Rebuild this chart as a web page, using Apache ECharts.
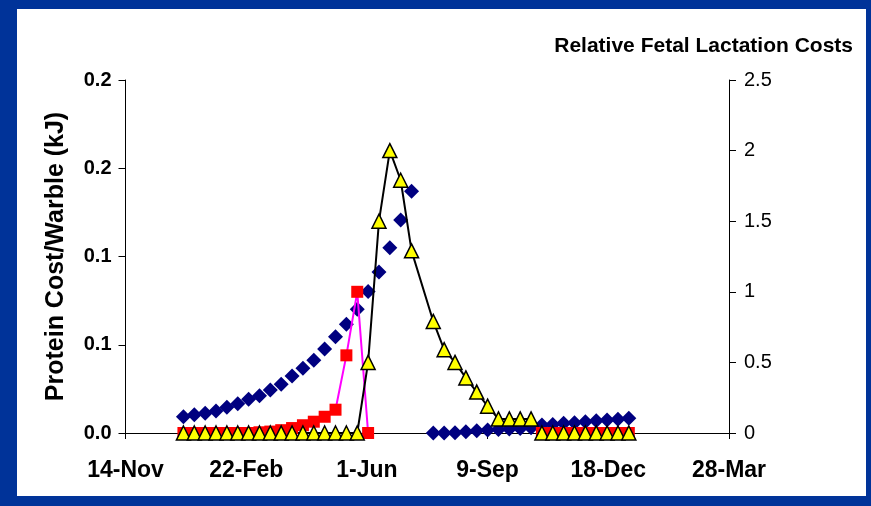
<!DOCTYPE html>
<html>
<head>
<meta charset="utf-8">
<script src="https://cdn.jsdelivr.net/npm/echarts@6/dist/echarts.min.js"></script>
<style>
  body { margin: 0; background: #003399; }
  #frame { position: relative; width: 871px; height: 506px; background: #003399; }
  #paper { position: absolute; left: 17px; top: 9px; width: 849px; height: 487px; background: #fff; }
  #chart { position: absolute; left: 0; top: 0; width: 871px; height: 506px; }
</style>
</head>
<body>
<div id="frame">
  <div id="paper"></div>
  <div id="chart"></div>
</div>
<script>
// x values are days after 14-Nov
var dateLabels = ["14-Nov", "22-Feb", "1-Jun", "9-Sep", "18-Dec", "28-Mar"];
var leftTicks = ["0.0", "0.1", "0.1", "0.2", "0.2"];
var rightTicks = ["0", "0.5", "1", "1.5", "2", "2.5"];

// protein cost per warble (left axis)
var proteinDays = [48, 57, 66, 75, 84, 93, 102, 111, 120, 129, 138, 147, 156, 165, 174, 183, 192, 201, 210, 219, 228, 237,
  255, 264, 273, 282, 291, 300, 309, 318, 327, 336, 345, 354, 363, 372, 381, 390, 399, 408, 417];
var proteinCost = [0.0092, 0.0104, 0.0112, 0.0125, 0.0146, 0.0166, 0.0191, 0.0211, 0.0244, 0.0276, 0.0323, 0.0367,
  0.0412, 0.0476, 0.0546, 0.0616, 0.0701, 0.0801, 0.0912, 0.105, 0.1207, 0.137,
  0, 0, 0.0002, 0.0007, 0.0013, 0.0017, 0.002, 0.0023, 0.0025, 0.003, 0.0045, 0.0048, 0.0055, 0.0058, 0.0064,
  0.007, 0.0074, 0.0078, 0.0083];

// relative fetal costs (right axis)
var fetalDays = [48, 57, 66, 75, 84, 93, 102, 111, 120, 129, 138, 147, 156, 165, 174, 183, 192, 201];
var fetalCost = [0, 0, 0, 0, 0, 0, 0, 0.005, 0.01, 0.02, 0.035, 0.055, 0.08, 0.115, 0.165, 0.55, 1.0, 0];
var fetalDays2 = [345, 354, 363, 372, 381, 390, 399, 408, 417];
var fetalCost2 = [0, 0, 0, 0, 0, 0, 0, 0, 0];

// relative lactation costs (right axis)
var lactDays = [48, 57, 66, 75, 84, 93, 102, 111, 120, 129, 138, 147, 156, 165, 174, 183, 192, 201, 210, 219, 228, 237,
  255, 264, 273, 282, 291, 300, 309, 318, 327, 336];
var lactCost = [0, 0, 0, 0, 0, 0, 0, 0, 0, 0, 0, 0, 0, 0, 0, 0, 0, 0.5, 1.5, 2.0, 1.79, 1.29,
  0.79, 0.59, 0.5, 0.39, 0.29, 0.19, 0.1, 0.1, 0.1, 0.1];
var lactDays2 = [345, 354, 363, 372, 381, 390, 399, 408, 417];
var lactCost2 = [0, 0, 0, 0, 0, 0, 0, 0, 0];

function pairs(xs, ys) {
  return xs.map(function (x, i) { return [x, ys[i]]; });
}

var chart = echarts.init(document.getElementById("chart"));
var font = "Liberation Sans, Arial, sans-serif";

var fetalStyle = {
  type: "line", yAxisIndex: 1, symbol: "rect", symbolSize: 12,
  itemStyle: { color: "#ff0000", opacity: 1 },
  lineStyle: { color: "#ff00ff", width: 2 },
  animation: false
};
var lactStyle = {
  type: "line", yAxisIndex: 1, symbol: "triangle", symbolSize: 14,
  itemStyle: { color: "#ffff00", borderColor: "#000", borderWidth: 1.5, opacity: 1 },
  lineStyle: { color: "#000", width: 2 },
  animation: false
};

var option = {
  backgroundColor: "transparent",
  title: {
    text: "Relative Fetal Lactation Costs",
    right: 13,
    top: 31,
    textStyle: { fontFamily: font, fontSize: 21, fontWeight: "bold", color: "#000" }
  },
  grid: { left: 125.5, right: 142, top: 80, bottom: 73 },
  xAxis: {
    type: "value", min: 0, max: 500, interval: 100,
    axisLine: { onZero: false, lineStyle: { color: "#000", width: 1 } },
    axisTick: { show: true, length: 6, lineStyle: { color: "#000" } },
    splitLine: { show: false },
    axisLabel: {
      margin: 26, fontFamily: font, fontSize: 23, fontWeight: "bold", color: "#000",
      formatter: function (v) { return dateLabels[Math.round(v / 100)]; }
    }
  },
  yAxis: [
    {
      type: "value", min: 0, max: 0.2, interval: 0.05,
      name: "Protein Cost/Warble (kJ)", nameLocation: "middle", nameGap: 57,
      nameTextStyle: { fontFamily: font, fontSize: 25, fontWeight: "bold", color: "#000" },
      axisLine: { show: true, lineStyle: { color: "#000", width: 1 } },
      axisTick: { show: true, length: 7, lineStyle: { color: "#000" } },
      splitLine: { show: false },
      axisLabel: {
        margin: 14, fontFamily: font, fontSize: 20, fontWeight: "bold", color: "#000",
        formatter: function (v) { return leftTicks[Math.round(v / 0.05)]; }
      }
    },
    {
      type: "value", min: 0, max: 2.5, interval: 0.5, position: "right",
      axisLine: { show: true, lineStyle: { color: "#000", width: 1 } },
      axisTick: { show: true, length: 7, lineStyle: { color: "#000" } },
      splitLine: { show: false },
      axisLabel: {
        margin: 15, fontFamily: font, fontSize: 20, color: "#000",
        formatter: function (v) { return rightTicks[Math.round(v / 0.5)]; }
      }
    }
  ],
  series: [
    {
      name: "Protein", type: "scatter", yAxisIndex: 0,
      symbol: "diamond", symbolSize: 15,
      itemStyle: { color: "#000080", opacity: 1 },
      data: pairs(proteinDays, proteinCost),
      animation: false
    },
    Object.assign({ name: "Fetal", data: pairs(fetalDays, fetalCost) }, fetalStyle),
    Object.assign({ name: "Fetal2", data: pairs(fetalDays2, fetalCost2) }, fetalStyle),
    Object.assign({ name: "Lactation", data: pairs(lactDays, lactCost) }, lactStyle),
    Object.assign({ name: "Lactation2", data: pairs(lactDays2, lactCost2) }, lactStyle)
  ]
};
chart.setOption(option);
</script>
</body>
</html>
